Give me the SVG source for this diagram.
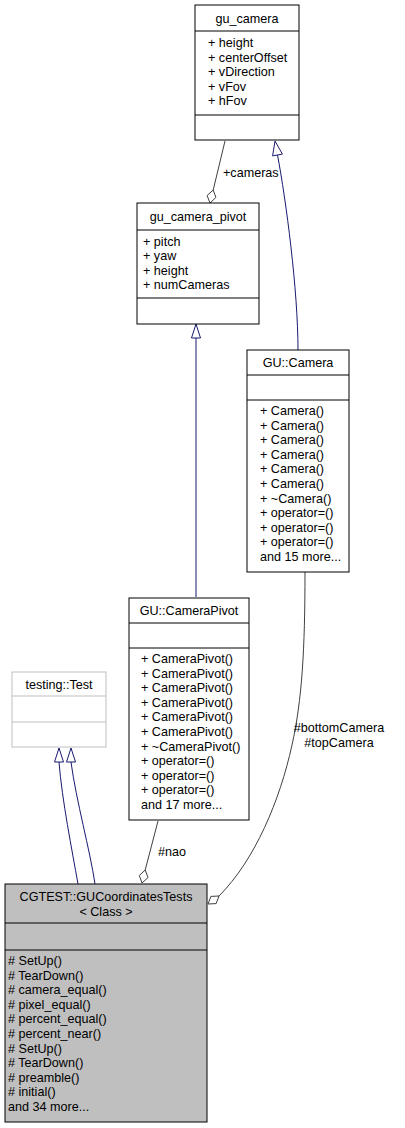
<svg xmlns="http://www.w3.org/2000/svg" width="405" height="1128" viewBox="0 0 405 1128">
<style>
text{font-family:"Liberation Sans",Arial,sans-serif;font-size:12.6px;fill:#000}
.c{text-anchor:middle}
.box{fill:#fff;stroke:#000;stroke-width:1}
.ext{fill:#fff;stroke:#bfbfbf;stroke-width:1}
.main{fill:#bfbfbf;stroke:#000;stroke-width:1}
.sep{stroke:#000;stroke-width:1}
.sepx{stroke:#bfbfbf;stroke-width:1}
.inh{fill:none;stroke:#191970;stroke-width:1}
.inhh{fill:#fff;stroke:#191970;stroke-width:1}
.use{fill:none;stroke:#404040;stroke-width:1}
.useh{fill:#fff;stroke:#404040;stroke-width:1}
</style>
<rect width="405" height="1128" fill="#fff"/>
<g id="connectors">
<path class="use" d="M225,141 L213.2,190"/>
<polygon class="useh" points="210,203 215.9,197.5 213.2,190 207.1,195.5"/>
<text x="223" y="177">+cameras</text>
<path class="inh" d="M196,597 L196,338"/>
<polygon class="inhh" points="196,324 200.5,338 191.5,338"/>
<path class="inh" d="M298,350 C298,290 286,200 277.5,155"/>
<polygon class="inhh" points="275,141 282.4,154.1 272.6,155.9"/>
<path class="inh" d="M78,884 C72,850 62,800 59,762"/>
<polygon class="inhh" points="59,748 63.5,762 54.5,762"/>
<path class="inh" d="M95,884 C90,850 76,800 71,762"/>
<polygon class="inhh" points="71,748 75.5,762 66.5,762"/>
<path class="use" d="M158,821 L145.2,870"/>
<polygon class="useh" points="142,883 148,877.5 145.2,870 139.3,875.5"/>
<text x="158" y="856">#nao</text>
<path class="use" d="M305,572 C305,650 302,700 292,745 C280,800 255,860 219,896"/>
<polygon class="useh" points="208,904 216.1,903.6 219,896 210.9,896.4"/>
<text class="c" x="339" y="732">#bottomCamera</text>
<text class="c" x="339" y="747">#topCamera</text>
</g>
<g id="gu_camera">
<rect class="box" x="195" y="5" width="104" height="135"/>
<line class="sep" x1="195" y1="31" x2="299" y2="31"/>
<line class="sep" x1="195" y1="115" x2="299" y2="115"/>
<text class="c" x="247" y="23">gu_camera</text>
<text x="208" y="47">+ height</text>
<text x="208" y="61.6">+ centerOffset</text>
<text x="208" y="76.2">+ vDirection</text>
<text x="208" y="90.8">+ vFov</text>
<text x="208" y="105.4">+ hFov</text>
</g>
<g id="gu_camera_pivot">
<rect class="box" x="137" y="203" width="122" height="121"/>
<line class="sep" x1="137" y1="230" x2="259" y2="230"/>
<line class="sep" x1="137" y1="298" x2="259" y2="298"/>
<text class="c" x="198" y="221">gu_camera_pivot</text>
<text x="143" y="245.5">+ pitch</text>
<text x="143" y="260.1">+ yaw</text>
<text x="143" y="274.7">+ height</text>
<text x="143" y="289.3">+ numCameras</text>
</g>
<g id="GU_Camera">
<rect class="box" x="247" y="350" width="102" height="222"/>
<line class="sep" x1="247" y1="375" x2="349" y2="375"/>
<line class="sep" x1="247" y1="400" x2="349" y2="400"/>
<text class="c" x="298" y="367">GU::Camera</text>
<text x="260" y="415">+ Camera()</text>
<text x="260" y="429.6">+ Camera()</text>
<text x="260" y="444.2">+ Camera()</text>
<text x="260" y="458.8">+ Camera()</text>
<text x="260" y="473.4">+ Camera()</text>
<text x="260" y="488">+ Camera()</text>
<text x="260" y="502.6">+ ~Camera()</text>
<text x="260" y="517.2">+ operator=()</text>
<text x="260" y="531.8">+ operator=()</text>
<text x="260" y="546.4">+ operator=()</text>
<text x="260" y="561">and 15 more...</text>
</g>
<g id="GU_CameraPivot">
<rect class="box" x="129" y="598" width="120" height="222"/>
<line class="sep" x1="129" y1="623" x2="249" y2="623"/>
<line class="sep" x1="129" y1="648" x2="249" y2="648"/>
<text class="c" x="189" y="615">GU::CameraPivot</text>
<text x="141" y="663">+ CameraPivot()</text>
<text x="141" y="677.6">+ CameraPivot()</text>
<text x="141" y="692.2">+ CameraPivot()</text>
<text x="141" y="706.8">+ CameraPivot()</text>
<text x="141" y="721.4">+ CameraPivot()</text>
<text x="141" y="736">+ CameraPivot()</text>
<text x="141" y="750.6">+ ~CameraPivot()</text>
<text x="141" y="765.2">+ operator=()</text>
<text x="141" y="779.8">+ operator=()</text>
<text x="141" y="794.4">+ operator=()</text>
<text x="141" y="809">and 17 more...</text>
</g>
<g id="testing_Test">
<rect class="ext" x="12" y="672" width="94" height="75"/>
<line class="sepx" x1="12" y1="696" x2="106" y2="696"/>
<line class="sepx" x1="12" y1="722" x2="106" y2="722"/>
<text class="c" x="59" y="689">testing::Test</text>
</g>
<g id="CGTEST_GUCoordinatesTests">
<rect class="main" x="5" y="884" width="202" height="238"/>
<line class="sep" x1="5" y1="923" x2="207" y2="923"/>
<line class="sep" x1="5" y1="950" x2="207" y2="950"/>
<text class="c" x="106" y="901">CGTEST::GUCoordinatesTests</text>
<text class="c" x="106" y="916">&lt; Class &gt;</text>
<text x="8" y="965">#&#160;SetUp()</text>
<text x="8" y="979.6"># TearDown()</text>
<text x="8" y="994.2"># camera_equal()</text>
<text x="8" y="1008.8"># pixel_equal()</text>
<text x="8" y="1023.4"># percent_equal()</text>
<text x="8" y="1038"># percent_near()</text>
<text x="8" y="1052.6"># SetUp()</text>
<text x="8" y="1067.2"># TearDown()</text>
<text x="8" y="1081.8"># preamble()</text>
<text x="8" y="1096.4"># initial()</text>
<text x="8" y="1111">and 34 more...</text>
</g>
</svg>
